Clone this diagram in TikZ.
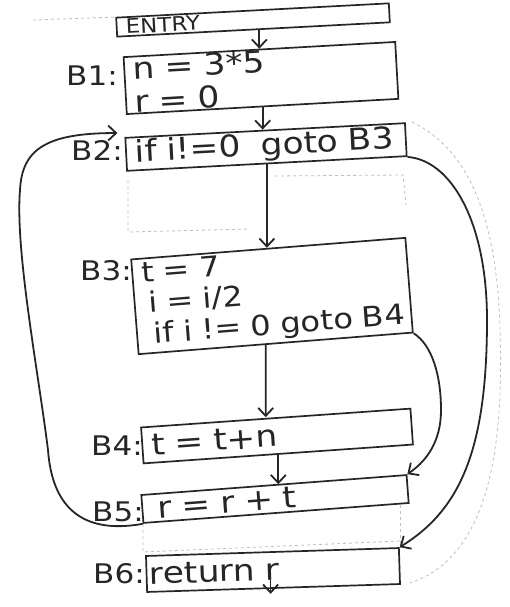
\documentclass[tikz,border=0pt]{standalone}
\usepackage{fontspec}
\setmainfont{DejaVu Sans}[FakeStretch=1.15]
\usetikzlibrary{arrows.meta,calc}
\begin{document}
\begin{tikzpicture}[x=1pt,y=-1pt,
  ink/.style={draw=black!85, line width=1.7pt},
  box/.style={ink, text=black!85, inner xsep=9pt, inner ysep=0pt, align=left,
    font=\fontsize{30}{33}\selectfont, anchor=center},
  lab/.style={font=\fontsize{27}{28}\selectfont, text=black!85, inner sep=0pt},
  arr/.style={draw=black!85, line width=1.8pt, -{Straight Barb[length=8pt,width=15pt]}},
  ghost/.style={draw=black!25, line width=0.8pt, dashed}
]
\fill[white] (0,0) rectangle (510,607);
\useasboundingbox (0,0) rectangle (510,607);

% faint show-through lines
\draw[ghost] (33,20) -- (118,17);
\draw[ghost] (128,180) -- (128,232) -- (250,229);
\draw[ghost] (275,176) -- (403,175) -- (406,205);
\draw[ghost] (143,524) -- (143,552) -- (400,541);
\draw[ghost] (400,505) -- (400,548);
\draw[ghost] (412,122) .. controls (470,150) and (497,220) .. (500,330)
  .. controls (505,470) and (480,560) .. (410,583);

% blocks
\node[box, rotate=3, minimum width=273pt, text width=255pt, minimum height=19pt,
  font=\fontsize{20}{22}\selectfont] (entry) at (253,20) {ENTRY};
\node[box, rotate=3.2, minimum width=272pt, text width=254pt, minimum height=57pt]
  (b1) at (261,78) {n = 3*5\\r = 0};
\node[box, rotate=3, minimum width=280pt, text width=262pt, minimum height=33pt]
  (b2) at (266,147) {\mbox{if i!=0\ \ goto B3}};
\node[box, rotate=4.5, minimum width=275pt, text width=257pt, minimum height=95pt,
  font=\fontsize{28}{31}\selectfont] (b3) at (272,296)
  {t = 7\\\hspace*{5pt}i = i/2\\\hspace*{8pt}\mbox{if i != 0 goto B4}};
\node[box, rotate=4, minimum width=270pt, text width=252pt, minimum height=36pt]
  (b4) at (277,436) {t = t+n};
\node[box, rotate=4.3, minimum width=266pt, text width=248pt, minimum height=28pt]
  (b5) at (275,499) {\hspace*{6pt}r = r + t};
\node[box, rotate=1.8, minimum width=253pt, text width=235pt, minimum height=36pt]
  (b6) at (273,570) {\hspace*{-6pt}return r};

% labels
\node[lab] (l1) at (92,76) {B1:};
\node[lab] (l2) at (97,150) {B2:};
\node[lab] (l3) at (106,271) {B3:};
\node[lab] (l4) at (117,446) {B4:};
\node[lab] (l5) at (118,512) {B5:};
\node[lab] (l6) at (119,574) {B6:};

% straight edges
\draw[arr] (entry.south -| b1.north) -- (b1.north);
\draw[arr] (b1.south) -- (b1.south |- b2.north);
\draw[arr] (b2.south) -- (b2.south |- b3.north);
\draw[arr] ($(b3.south)+(-10,0)$) -- ($(b4.north)+(-10,0)$);
\draw[arr] (b4.south) -- (b4.south |- b5.north);
\coordinate (exit) at ($(b6.south)+(-3,5)$);
\draw[arr] ($(b6.south)+(-3,-9)$) -- (exit);

% curved edges
\draw[arr] (b2.south east) .. controls (450,160) and (487,220) .. (487,320)
  .. controls (487,450) and (460,510) .. (b6.north east);
\draw[arr] (b3.south east) .. controls (432,345) and (441,375) .. (441,410)
  .. controls (441,440) and (428,460) .. (b5.north east);
\coordinate (b2tip) at ($(b2.north west)+(-7,-4)$);
\draw[arr] (b5.south west) .. controls (80,535) and (52,505) .. (48,450)
  .. controls (38,370) and (15,250) .. (20,190)
  .. controls (22,150) and (45,133) .. (b2tip);
\end{tikzpicture}
\end{document}
